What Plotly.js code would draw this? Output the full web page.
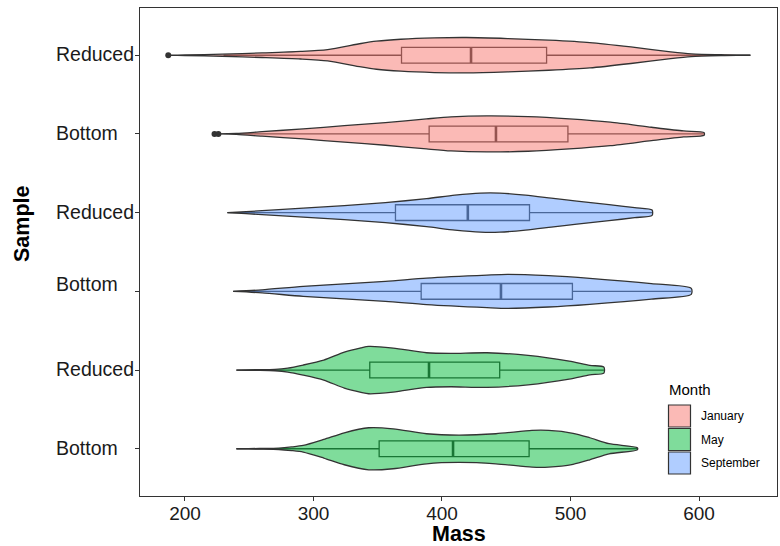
<!DOCTYPE html>
<html>
<head>
<meta charset="utf-8">
<script src="https://cdn.plot.ly/plotly-3.0.1.min.js"></script>
<style>
  html, body { margin: 0; padding: 0; background: #ffffff; }
  #chart { width: 780px; height: 546px; }
</style>
</head>
<body>
<div id="chart"></div>
<script>
// Rows from bottom (1) to top (6)
const sampleLabels = ["Bottom", "Reduced", "Bottom", "Reduced", "Bottom", "Reduced"];
const sampleMonths = ["May", "May", "September", "September", "January", "January"];
const monthNames = ["January", "May", "September"];

// Violin outlines: mass grid and half-width (percent of one row spacing)
const mayBottomMass  = [240, 258, 273, 283, 292, 308, 324, 343, 362, 388, 413, 442, 470, 483, 502, 515, 530, 552];
const mayBottomWidth = [0, 0.4, 0.9, 2.3, 4.2, 11.8, 20.3, 26.7, 25.4, 19.1, 17.4, 19.1, 23.3, 23.3, 19.7, 14.0, 6.4, 1.3];

const mayReducedMass  = [240, 255, 270, 280, 292, 308, 324, 337, 343, 362, 388, 407, 435, 467, 499, 515, 526];
const mayReducedWidth = [0, 0.4, 0.9, 2.5, 6.4, 12.7, 22.9, 28.3, 30.1, 28.0, 22.0, 21.2, 22.0, 18.7, 11.4, 6.0, 3.8];

const sepBottomMass  = [237.5, 260, 292, 356, 388, 435, 451, 483, 515, 563, 594];
const sepBottomWidth = [0, 1.9, 6.4, 12.7, 16.9, 20.7, 21.6, 19.9, 16.5, 9.8, 3.8];

const sepReducedMass  = [233, 260, 292, 324, 356, 388, 410, 430, 445, 465, 485, 505, 530, 550, 563.5];
const sepReducedWidth = [0, 2.5, 5.7, 8.9, 12.7, 17.8, 22.2, 24.8, 24.8, 22.2, 18.4, 14.6, 10.2, 6.4, 3.4];

const janBottomMass  = [223, 240, 260, 292, 324, 356, 388, 407, 435, 467, 499, 531, 563, 588, 604];
const janBottomWidth = [0, 0.6, 2.9, 6.4, 10.5, 14.4, 19.1, 21.6, 22.9, 22.0, 19.1, 14.9, 8.5, 3.8, 1.7];

const janReducedMass  = [187, 200, 229, 260, 290, 311, 337, 349, 368, 394, 419, 451, 483, 515, 547, 578, 594, 620, 640];
const janReducedWidth = [0, 0.4, 1.3, 2.9, 4.8, 7.2, 14.9, 17.8, 20.3, 22.0, 22.5, 21.2, 19.1, 16.1, 10.5, 4.2, 1.7, 0.5, 0];

// Box summaries, rows bottom to top
const boxQ1     = [351.1, 343.8, 383.8, 363.8, 390.0, 368.5];
const boxMedian = [408.6, 389.9, 445.9, 420.1, 442.0, 422.6];
const boxQ3     = [467.8, 444.9, 501.5, 468.1, 498.0, 481.4];
const boxLow    = [240.0, 240.0, 237.5, 233.0, 240.0, 230.0];
const boxHigh   = [552.0, 526.0, 593.7, 563.5, 604.0, 640.0];

// Outlying observations
const outlierMass = [187, 223, 226];
const outlierRow  = [6, 5, 5];

const xTicks = [200, 300, 400, 500, 600];

// ---------- styling ----------
const fillColors = {
  January:   "rgba(248,118,109,0.5)",
  May:       "rgba(0,186,56,0.5)",
  September: "rgba(97,156,255,0.5)"
};
const ink = "#333333";
const textColor = "#1a1a1a";
const fontFamily = "Liberation Sans, Arial, sans-serif";

const W = 780, H = 546;
const margin = { l: 140, r: 3, t: 8, b: 50 };
const plotW = W - margin.l - margin.r;
const plotH = H - margin.t - margin.b;
const px2x = px => (px - margin.l) / plotW;
const px2y = py => (H - margin.b - py) / plotH;

const violinData = [
  [mayBottomMass, mayBottomWidth],
  [mayReducedMass, mayReducedWidth],
  [sepBottomMass, sepBottomWidth],
  [sepReducedMass, sepReducedWidth],
  [janBottomMass, janBottomWidth],
  [janReducedMass, janReducedWidth]
];
const rows = sampleLabels.map((_, i) => i + 1);

const traces = [];

// boxes sit underneath the translucent violins
traces.push({
  type: "box",
  orientation: "h",
  y: rows,
  q1: boxQ1,
  median: boxMedian,
  q3: boxQ3,
  lowerfence: boxLow,
  upperfence: boxHigh,
  width: 0.2,
  whiskerwidth: 0,
  boxpoints: false,
  fillcolor: "#ffffff",
  line: { color: ink, width: 1.3 },
  showlegend: false,
  hoverinfo: "skip"
});

// heavier median strokes
const medX = [], medY = [];
rows.forEach((r, i) => {
  medX.push(boxMedian[i], boxMedian[i], null);
  medY.push(r - 0.1, r + 0.1, null);
});
traces.push({
  type: "scatter", mode: "lines", x: medX, y: medY,
  line: { color: ink, width: 2.6 }, showlegend: false, hoverinfo: "skip"
});

// outliers
traces.push({
  type: "scatter", mode: "markers", x: outlierMass, y: outlierRow,
  marker: { color: ink, size: 6 }, showlegend: false, hoverinfo: "skip"
});

// violins
violinData.forEach(([mass, width], i) => {
  const r = rows[i];
  const xs = mass.concat(mass.slice().reverse());
  const ys = width.map(w => r + w / 100).concat(width.slice().reverse().map(w => r - w / 100));
  xs.push(xs[0]); ys.push(ys[0]);
  traces.push({
    type: "scatter", mode: "lines", x: xs, y: ys,
    fill: "toself", fillcolor: fillColors[sampleMonths[i]],
    line: { color: ink, width: 1.3, shape: "spline", smoothing: 0.7 },
    showlegend: false, hoverinfo: "skip"
  });
});

// ---------- annotations: axis titles, row labels, legend ----------
const annotations = [];
rows.forEach((r, i) => {
  // third row label sits slightly higher than its tick
  const lift = (i === 2) ? 6 : 0;
  annotations.push({
    xref: "paper", yref: "y", x: px2x(54), y: r, yshift: lift + 1,
    xanchor: "left", yanchor: "middle", showarrow: false,
    text: sampleLabels[i],
    font: { family: fontFamily, size: 19.5, color: textColor }
  });
});
annotations.push({
  xref: "paper", yref: "paper", x: 0.5, y: px2y(534),
  xanchor: "center", yanchor: "middle", showarrow: false,
  text: "<b>Mass</b>", font: { family: fontFamily, size: 21.5, color: "#000" }
});
annotations.push({
  xref: "paper", yref: "paper", x: px2x(22), y: px2y(224),
  xanchor: "center", yanchor: "middle", showarrow: false, textangle: -90,
  text: "<b>Sample</b>", font: { family: fontFamily, size: 21.5, color: "#000" }
});
annotations.push({
  xref: "paper", yref: "paper", x: px2x(667), y: px2y(389),
  xanchor: "left", yanchor: "middle", showarrow: false,
  text: "Month", font: { family: fontFamily, size: 15, color: "#000" }
});

const shapes = [];
const keyTop = [405, 428.5, 452];
monthNames.forEach((m, i) => {
  shapes.push({
    type: "rect", xref: "paper", yref: "paper", layer: "above",
    x0: px2x(668.5), x1: px2x(690.5), y0: px2y(keyTop[i]), y1: px2y(keyTop[i] + 22),
    fillcolor: fillColors[m], line: { color: ink, width: 1.2 }
  });
  annotations.push({
    xref: "paper", yref: "paper", x: px2x(699), y: px2y(keyTop[i] + 11),
    xanchor: "left", yanchor: "middle", showarrow: false,
    text: m, font: { family: fontFamily, size: 12, color: "#000" }
  });
});

const layout = {
  width: W, height: H,
  margin: margin,
  paper_bgcolor: "#ffffff",
  plot_bgcolor: "#ffffff",
  showlegend: false,
  xaxis: {
    range: [165, 660.7],
    tickvals: xTicks,
    ticktext: xTicks.map(String),
    ticks: "outside", ticklen: 4, tickwidth: 1, tickcolor: ink,
    ticklabelstandoff: -4,
    tickfont: { family: fontFamily, size: 19, color: textColor },
    showgrid: false, zeroline: false,
    showline: true, mirror: true, linecolor: ink, linewidth: 1.3
  },
  yaxis: {
    range: [0.4, 6.6],
    tickvals: rows,
    showticklabels: false,
    ticks: "outside", ticklen: 4, tickwidth: 1, tickcolor: ink,
    showgrid: false, zeroline: false,
    showline: true, mirror: true, linecolor: ink, linewidth: 1.3
  },
  annotations: annotations,
  shapes: shapes
};

Plotly.newPlot("chart", traces, layout, { displayModeBar: false, staticPlot: true });
</script>
</body>
</html>
